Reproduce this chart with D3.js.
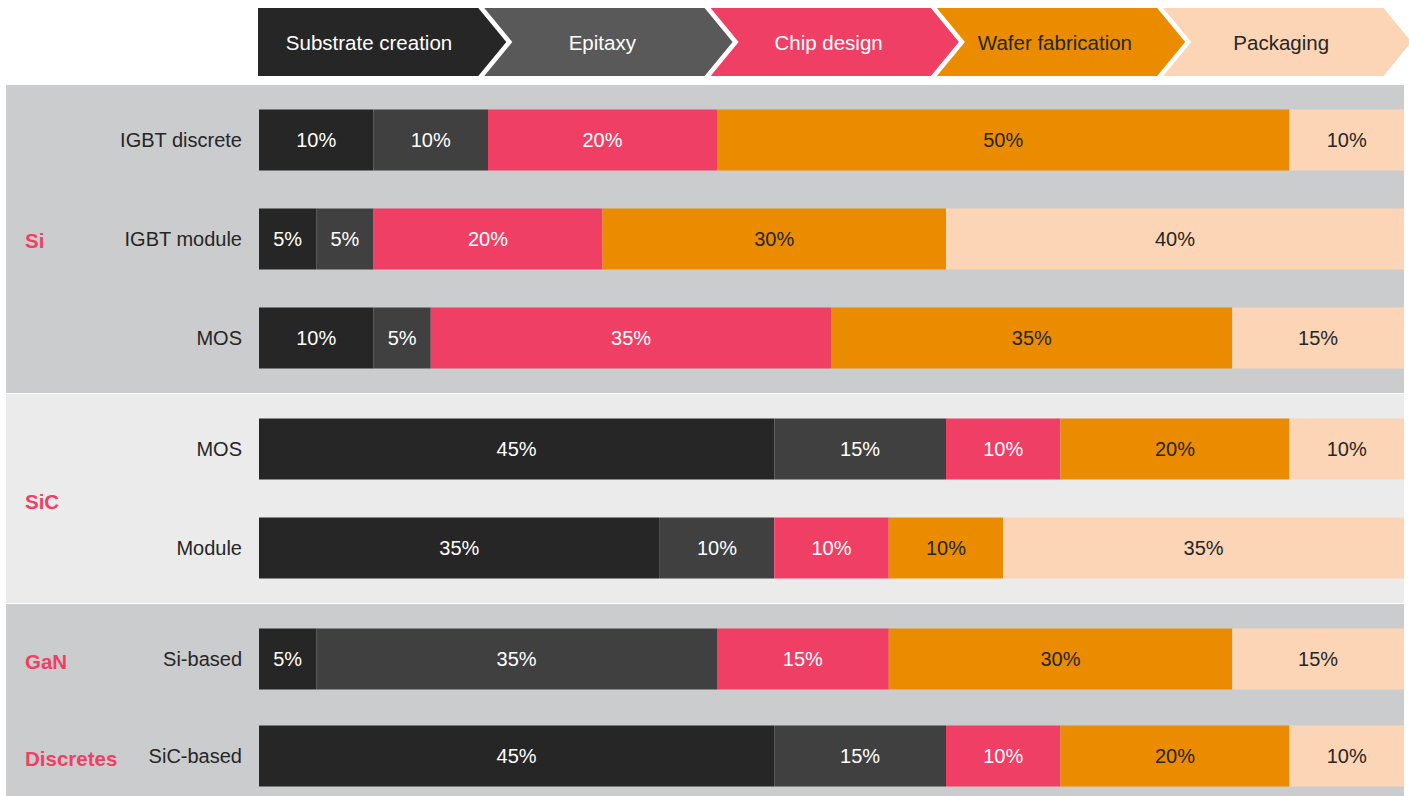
<!DOCTYPE html>
<html>
<head>
<meta charset="utf-8">
<script src="https://cdn.jsdelivr.net/npm/d3@7"></script>
<style>
  html, body { margin: 0; padding: 0; background: #ffffff; }
  svg { display: block; font-family: "Liberation Sans", Arial, Helvetica, sans-serif; }
</style>
</head>
<body>
<svg id="chart" width="1409" height="796"></svg>
<script>
// Value-chain stages (column order of each stacked bar)
const stages = ["Substrate creation", "Epitaxy", "Chip design", "Wafer fabrication", "Packaging"];

// Device groups and the product rows they hold
const groups = ["Si", "SiC", "GaN Discretes"];
const groupLabelLines = [["Si"], ["SiC"], ["GaN", "Discretes"]];
const rowGroup = ["Si", "Si", "Si", "SiC", "SiC", "GaN Discretes", "GaN Discretes"];
const rowLabels = ["IGBT discrete", "IGBT module", "MOS", "MOS", "Module", "Si-based", "SiC-based"];

// Share of value (%) per stage, one array per stage, aligned with rowLabels
const substrateValues = [10, 5, 10, 45, 35, 5, 45];
const epitaxyValues   = [10, 5, 5, 15, 10, 35, 15];
const chipValues      = [20, 20, 35, 10, 10, 15, 10];
const waferValues     = [50, 30, 35, 20, 10, 30, 20];
const packagingValues = [10, 40, 15, 10, 35, 15, 10];

const seriesValues = [substrateValues, epitaxyValues, chipValues, waferValues, packagingValues];

// Styling
const barColors    = ["#262626", "#404040", "#f03f65", "#eb8c00", "#fbd5b5"];
const headerColors = ["#262626", "#595959", "#f03f65", "#eb8c00", "#fbd5b5"];
const textColors   = ["#ffffff", "#ffffff", "#ffffff", "#262626", "#262626"];
const bandColors   = ["#cbcccd", "#ebebeb", "#cbcccd"];
const groupPitch   = [99, 99, 97];
const accent = "#f03f65";
const ink = "#262626";

const svg = d3.select("#chart");

// Horizontal percentage scale spanning the bar area
const x = d3.scaleLinear().domain([0, 100]).range([259, 1404]);

// Vertical layout: each group band has top/bottom padding and a row pitch
const bandTop = 85;
const bandPad = 55;
const barH = 61;

const table = rowLabels.map((label, i) => {
  const obj = { label, group: rowGroup[i] };
  stages.forEach((s, k) => obj[s] = seriesValues[k][i]);
  return obj;
});

// Build band geometry and per-row y centres
let cursor = bandTop;
const bands = groups.map((g, gi) => {
  const rows = table.filter(r => r.group === g);
  const pitch = groupPitch[gi];
  const h = 2 * bandPad + (rows.length - 1) * pitch;
  const rowY = d3.scaleLinear().domain([0, 1]).range([cursor + bandPad, cursor + bandPad + pitch]);
  rows.forEach((r, i) => r.cy = rowY(i));
  const b = { group: g, top: cursor, height: h, rows, lines: groupLabelLines[gi], color: bandColors[gi] };
  cursor += h + 1;
  return b;
});

// Background bands
svg.append("g").selectAll("rect")
  .data(bands)
  .join("rect")
  .attr("x", 6)
  .attr("y", d => d.top)
  .attr("width", 1404 - 6)
  .attr("height", d => d.height)
  .attr("fill", d => d.color);

// Header chevrons
const headerTop = 8, headerBot = 76, headerMid = (headerTop + headerBot) / 2;
const chevStep = 226.3, chevGap = 6, chevDepth = 28;
const header = svg.append("g");
stages.forEach((s, i) => {
  const x0 = 258 + i * chevStep;
  const x1 = x0 + chevStep - chevGap;
  const pts = [
    [x0, headerTop], [x1, headerTop], [x1 + chevDepth, headerMid], [x1, headerBot], [x0, headerBot]
  ];
  if (i > 0) pts.push([x0 + chevDepth, headerMid]);
  header.append("path")
    .attr("d", d3.line()(pts) + "Z")
    .attr("fill", headerColors[i]);
  header.append("text")
    .attr("x", x0 + (i === 0 ? 111 : 118))
    .attr("y", headerMid + 1)
    .attr("dy", "0.35em")
    .attr("text-anchor", "middle")
    .attr("font-size", 20.5)
    .attr("fill", textColors[i])
    .text(s);
});

// Stacked bars
const stack = d3.stack().keys(stages);
const stacked = stack(table);
const allRows = bands.flatMap(b => b.rows);

const layers = svg.append("g").selectAll("g")
  .data(stacked)
  .join("g")
  .attr("fill", (d, i) => barColors[i]);

layers.selectAll("rect")
  .data(d => d)
  .join("rect")
  .attr("x", d => x(d[0]))
  .attr("width", d => x(d[1]) - x(d[0]))
  .attr("y", d => d.data.cy - barH / 2)
  .attr("height", barH);

// Value labels centred in each segment
const labelLayers = svg.append("g").selectAll("g")
  .data(stacked)
  .join("g")
  .attr("fill", (d, i) => textColors[i]);

labelLayers.selectAll("text")
  .data(d => d)
  .join("text")
  .attr("x", d => (x(d[0]) + x(d[1])) / 2)
  .attr("y", d => d.data.cy)
  .attr("dy", "0.35em")
  .attr("text-anchor", "middle")
  .attr("font-size", 20)
  .text(d => (d[1] - d[0]) + "%");

// Row labels
svg.append("g").selectAll("text")
  .data(allRows)
  .join("text")
  .attr("x", 242)
  .attr("y", d => d.cy)
  .attr("dy", "0.35em")
  .attr("text-anchor", "end")
  .attr("font-size", 20)
  .attr("fill", ink)
  .text(d => d.label);

// Group labels
const gl = svg.append("g");
bands.forEach(b => {
  if (b.lines.length === 1) {
    gl.append("text")
      .attr("x", 25)
      .attr("y", b.rows.length === 3 ? b.rows[1].cy + 2 : b.top + b.height / 2 + 3)
      .attr("dy", "0.35em")
      .attr("font-size", 20.5)
      .attr("font-weight", "bold")
      .attr("fill", accent)
      .text(b.lines[0]);
  } else {
    b.lines.forEach((line, i) => {
      gl.append("text")
        .attr("x", 25)
        .attr("y", b.rows[i].cy + 3)
        .attr("dy", "0.35em")
        .attr("font-size", 20.5)
        .attr("font-weight", "bold")
        .attr("fill", accent)
        .text(line);
    });
  }
});
</script>
</body>
</html>
